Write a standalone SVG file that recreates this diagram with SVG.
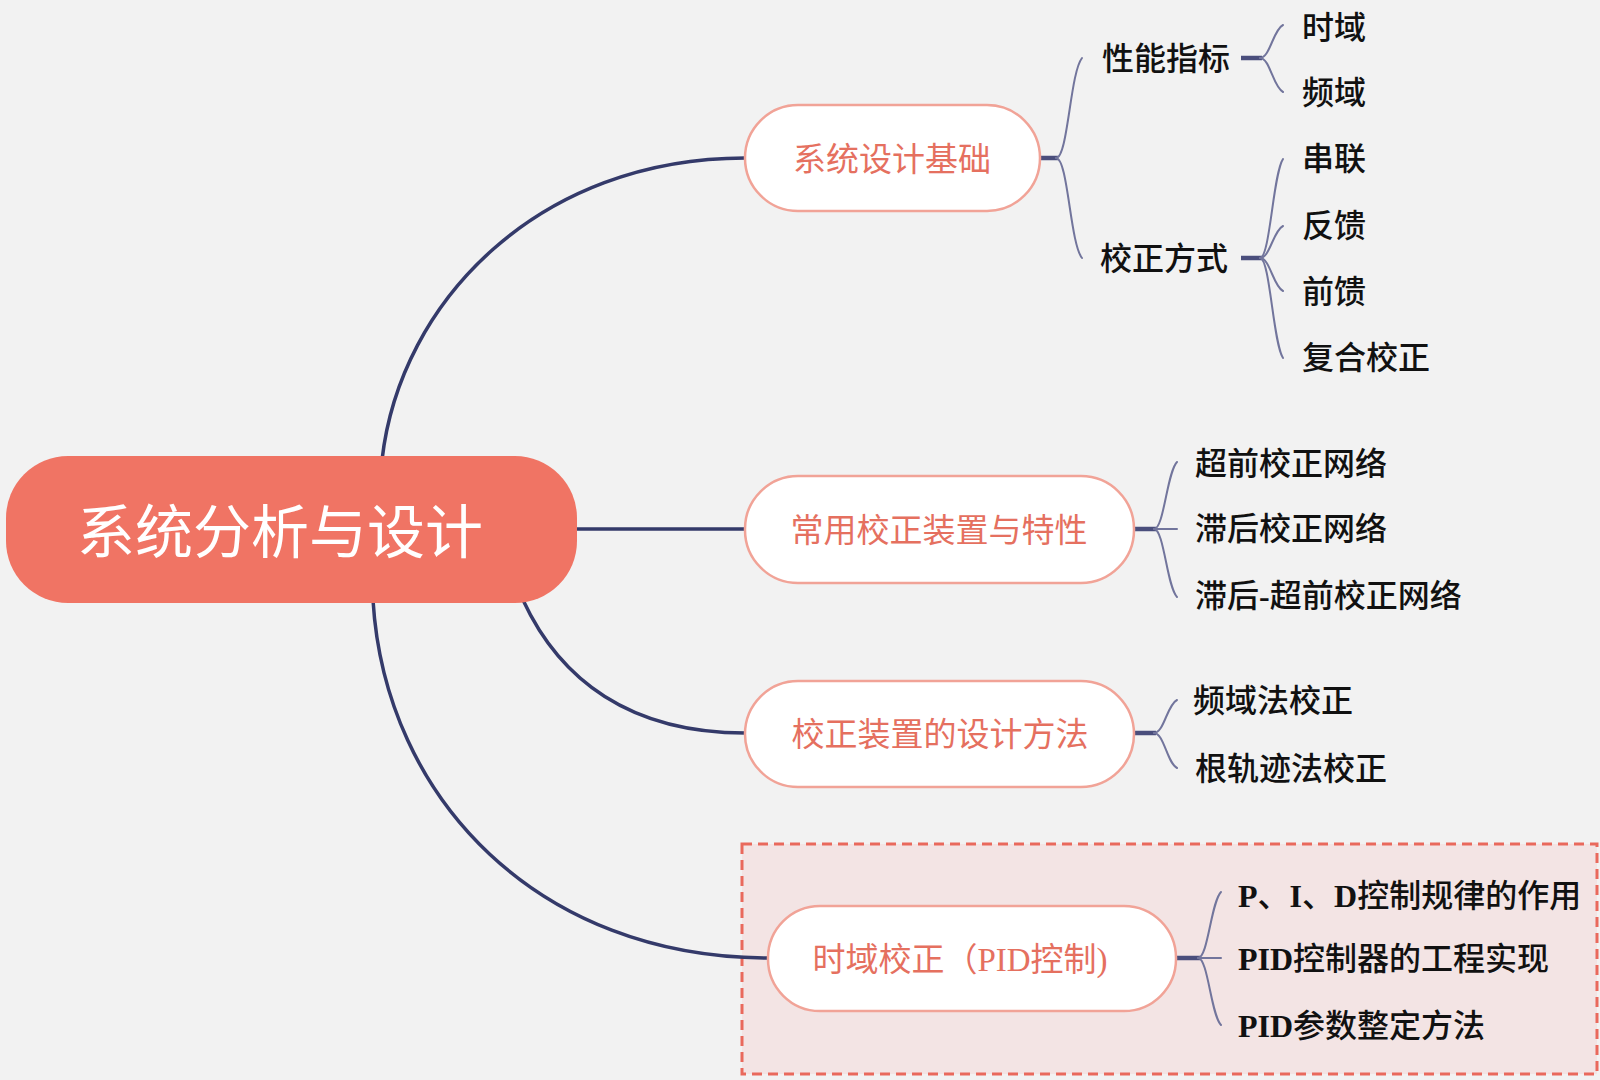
<svg xmlns="http://www.w3.org/2000/svg" width="1600" height="1080" viewBox="0 0 1600 1080">
<style>
.bg{fill:#f2f2f2}
.main{fill:#f07464}
.maintext{fill:#ffffff;font-family:"Noto Sans CJK SC","Noto Sans",sans-serif;font-size:58px}
.node{fill:#ffffff;stroke:#f1a397;stroke-width:2.5}
.ntext{fill:#e5705f;font-family:"Liberation Serif","Noto Sans CJK SC",serif;font-size:33px;text-anchor:middle}
.leaf{fill:#111111;font-family:"Liberation Serif","Noto Sans CJK SC",serif;font-size:32px;font-weight:500}
.lat{font-weight:700}
.trunk{fill:none;stroke:#343a6a;stroke-width:3.5;stroke-linecap:round}
.stub{fill:none;stroke:#4a4e7c;stroke-width:4.5}
.br{fill:none;stroke:#72759c;stroke-width:2;stroke-linecap:round}
.box{fill:#f3e4e4;stroke:#e9695c;stroke-width:3;stroke-dasharray:10 6}
</style>
<rect class="bg" x="0" y="0" width="1600" height="1080"/>
<rect id="pid-highlight" class="box" x="742" y="844" width="855" height="230"/>

<g id="connectors">
  <path class="trunk" d="M382,460 C400,300 540,158 745,158"/>
  <path class="trunk" d="M577,529 H745"/>
  <path class="trunk" d="M523,600 C560,680 630,733 745,733"/>
  <path class="trunk" d="M373,600 C385,800 540,958 768,958"/>

  <path class="stub" d="M1040,158 H1058"/>
  <path class="br" d="M1056,158 C1068,158 1070,73 1082,58"/>
  <path class="br" d="M1056,158 C1068,158 1070,243 1082,258"/>

  <path class="stub" d="M1241,58 H1262"/>
  <path class="br" d="M1260,58 C1270,58 1273,30 1283,25"/>
  <path class="br" d="M1260,58 C1270,58 1273,87 1283,92"/>

  <path class="stub" d="M1241,258 H1262"/>
  <path class="br" d="M1260,258 C1270,258 1273,174 1283,159"/>
  <path class="br" d="M1260,258 C1270,258 1273,231 1283,226"/>
  <path class="br" d="M1260,258 C1270,258 1273,286 1283,291"/>
  <path class="br" d="M1260,258 C1270,258 1273,343 1283,358"/>

  <path class="stub" d="M1134,529 H1156"/>
  <path class="br" d="M1154,529 C1164,529 1167,472 1177,462"/>
  <path class="br" d="M1154,529 H1177"/>
  <path class="br" d="M1154,529 C1164,529 1167,587 1177,597"/>

  <path class="stub" d="M1134,733 H1156"/>
  <path class="br" d="M1154,733 C1164,733 1167,705 1177,700"/>
  <path class="br" d="M1154,733 C1164,733 1167,763 1177,768"/>

  <path class="stub" d="M1176,958 H1200"/>
  <path class="br" d="M1198,958 C1208,958 1211,902 1221,892"/>
  <path class="br" d="M1198,958 H1221"/>
  <path class="br" d="M1198,958 C1208,958 1211,1015 1221,1025"/>
</g>

<g id="root">
  <rect class="main" x="6" y="456" width="571" height="147" rx="62" ry="62"/>
  <text class="maintext" x="280" y="553" text-anchor="middle">系统分析与设计</text>
</g>

<g id="n-basis">
  <rect class="node" x="745" y="105" width="295" height="106" rx="53" ry="53"/>
  <text class="ntext" x="892" y="170.5">系统设计基础</text>
</g>
<g id="n-devices">
  <rect class="node" x="745" y="476" width="389" height="107" rx="53" ry="53"/>
  <text class="ntext" x="939" y="541.5">常用校正装置与特性</text>
</g>
<g id="n-methods">
  <rect class="node" x="745" y="681" width="389" height="106" rx="53" ry="53"/>
  <text class="ntext" x="940" y="745.5">校正装置的设计方法</text>
</g>
<g id="n-pid">
  <rect class="node" x="768" y="906" width="408" height="105" rx="52" ry="52"/>
  <text class="ntext" x="960" y="970.5">时域校正（PID控制)</text>
</g>

<g id="l-perf"><text class="leaf" x="1102" y="70">性能指标</text></g>
<g id="l-mode"><text class="leaf" x="1100" y="270">校正方式</text></g>
<g id="l-time"><text class="leaf" x="1302" y="39">时域</text></g>
<g id="l-freq"><text class="leaf" x="1302" y="104">频域</text></g>
<g id="l-series"><text class="leaf" x="1302" y="170">串联</text></g>
<g id="l-feedback"><text class="leaf" x="1302" y="237">反馈</text></g>
<g id="l-feedforward"><text class="leaf" x="1302" y="303">前馈</text></g>
<g id="l-compound"><text class="leaf" x="1302" y="369">复合校正</text></g>

<g id="l-lead"><text class="leaf" x="1195" y="475">超前校正网络</text></g>
<g id="l-lag"><text class="leaf" x="1195" y="540">滞后校正网络</text></g>
<g id="l-laglead"><text class="leaf" x="1195" y="607">滞后<tspan class="lat">-</tspan>超前校正网络</text></g>

<g id="l-freqmethod"><text class="leaf" x="1193" y="712">频域法校正</text></g>
<g id="l-rootlocus"><text class="leaf" x="1195" y="780">根轨迹法校正</text></g>

<g id="l-pidrole"><text class="leaf" x="1238" y="907"><tspan class="lat">P</tspan>、<tspan class="lat">I</tspan>、<tspan class="lat">D</tspan>控制规律的作用</text></g>
<g id="l-pidimpl"><text class="leaf" x="1238" y="970"><tspan class="lat">PID</tspan>控制器的工程实现</text></g>
<g id="l-pidtune"><text class="leaf" x="1238" y="1037"><tspan class="lat">PID</tspan>参数整定方法</text></g>
</svg>
